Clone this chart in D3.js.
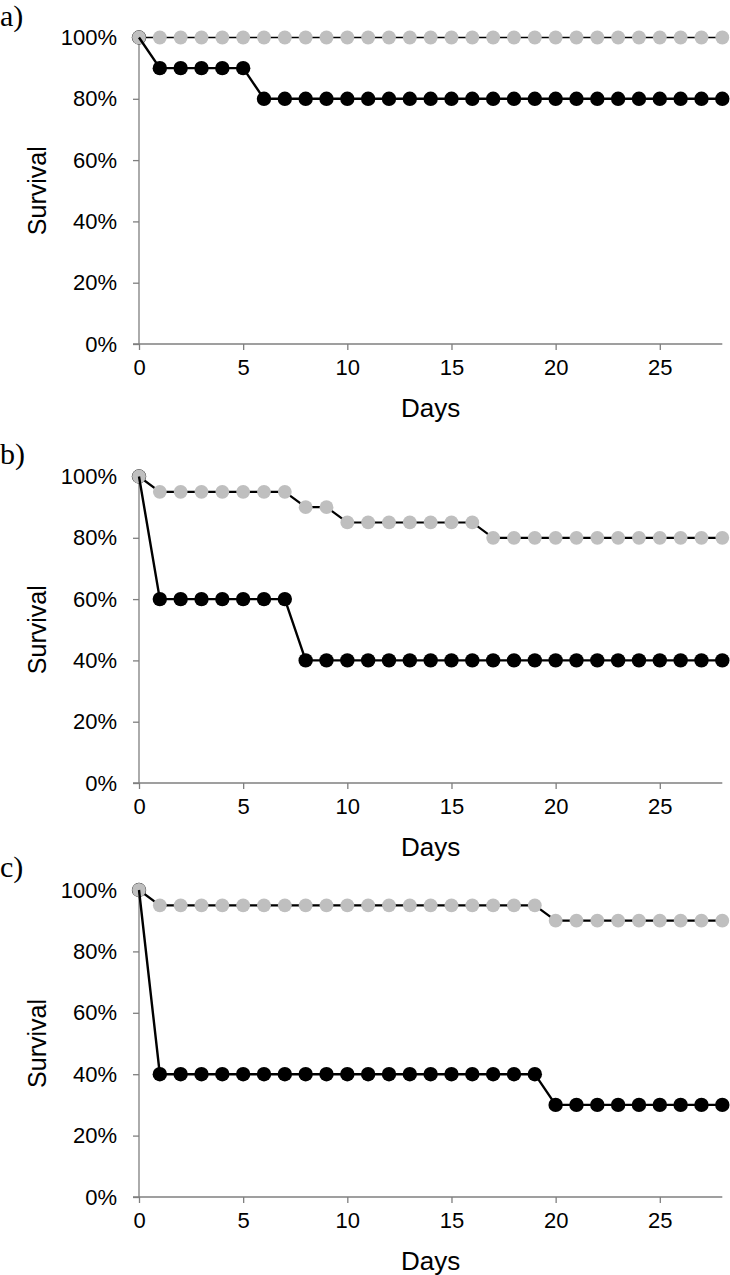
<!DOCTYPE html>
<html>
<head>
<meta charset="utf-8">
<script src="https://cdn.jsdelivr.net/npm/d3@7/dist/d3.min.js"></script>
<style>
  html, body { margin: 0; padding: 0; background: #fff; }
  svg { display: block; }
</style>
</head>
<body>
<svg id="chart" width="730" height="1275"></svg>
<script>
// ---- Data ----
const days = d3.range(0, 29); // 0..28
const xTicks = [0, 5, 10, 15, 20, 25];
const yTicks = [0, 0.2, 0.4, 0.6, 0.8, 1.0];
const panelLabels = ["a)", "b)", "c)"];

// Panel a
const aGray  = [1,1,1,1,1,1,1,1,1,1,1,1,1,1,1,1,1,1,1,1,1,1,1,1,1,1,1,1,1];
const aBlack = [1,0.9,0.9,0.9,0.9,0.9,0.8,0.8,0.8,0.8,0.8,0.8,0.8,0.8,0.8,0.8,0.8,0.8,0.8,0.8,0.8,0.8,0.8,0.8,0.8,0.8,0.8,0.8,0.8];
// Panel b
const bGray  = [1,0.95,0.95,0.95,0.95,0.95,0.95,0.95,0.9,0.9,0.85,0.85,0.85,0.85,0.85,0.85,0.85,0.8,0.8,0.8,0.8,0.8,0.8,0.8,0.8,0.8,0.8,0.8,0.8];
const bBlack = [1,0.6,0.6,0.6,0.6,0.6,0.6,0.6,0.4,0.4,0.4,0.4,0.4,0.4,0.4,0.4,0.4,0.4,0.4,0.4,0.4,0.4,0.4,0.4,0.4,0.4,0.4,0.4,0.4];
// Panel c
const cGray  = [1,0.95,0.95,0.95,0.95,0.95,0.95,0.95,0.95,0.95,0.95,0.95,0.95,0.95,0.95,0.95,0.95,0.95,0.95,0.95,0.9,0.9,0.9,0.9,0.9,0.9,0.9,0.9,0.9];
const cBlack = [1,0.4,0.4,0.4,0.4,0.4,0.4,0.4,0.4,0.4,0.4,0.4,0.4,0.4,0.4,0.4,0.4,0.4,0.4,0.4,0.3,0.3,0.3,0.3,0.3,0.3,0.3,0.3,0.3];

// ---- Layout ----
const panels = [
  { label: panelLabels[0], gray: aGray, black: aBlack, top: 37.5, bottom: 344, labelY: 15, grayLineW: 1.3 },
  { label: panelLabels[1], gray: bGray, black: bBlack, top: 476.5, bottom: 783, labelY: 453, grayLineW: 2.2 },
  { label: panelLabels[2], gray: cGray, black: cBlack, top: 890, bottom: 1197, labelY: 866, grayLineW: 2.2 }
];

const svg = d3.select("#chart");
const x = d3.scaleLinear().domain([0, 28]).range([139, 722.3]);
const GRAY = "#bfbfbf";
const AXIS = "#7f7f7f";
const RG = 6.9, RB = 7.2;
const SANS = "Liberation Sans, Arial, sans-serif";

panels.forEach(p => {
  const g = svg.append("g");
  const y = d3.scaleLinear().domain([0, 1]).range([p.bottom, p.top]);

  // Y axis
  const yAxis = d3.axisLeft(y).tickValues(yTicks).tickFormat(d3.format(".0%")).tickSize(6).tickPadding(16);
  const ya = g.append("g").attr("transform", `translate(${x(0)},0)`).call(yAxis);
  ya.select(".domain").attr("stroke", AXIS).attr("stroke-width", 1.3).attr("d", `M0,${p.bottom}V${p.top}`);
  ya.selectAll(".tick line").attr("stroke", AXIS).attr("stroke-width", 1.3);
  ya.selectAll(".tick text").attr("font-family", SANS).attr("font-size", 22).attr("fill", "#000");

  // X axis
  const xAxis = d3.axisBottom(x).tickValues(xTicks).tickSize(6).tickPadding(9);
  const xa = g.append("g").attr("transform", `translate(0,${p.bottom})`).call(xAxis);
  xa.select(".domain").attr("stroke", AXIS).attr("stroke-width", 1.3).attr("d", `M${x(0) - 6},0H${x(28)}`);
  xa.selectAll(".tick line").attr("stroke", AXIS).attr("stroke-width", 1.3);
  xa.selectAll(".tick text").attr("font-family", SANS).attr("font-size", 22).attr("fill", "#000");

  // Axis titles
  g.append("text")
    .attr("transform", `translate(37,${(p.top + p.bottom) / 2}) rotate(-90)`)
    .attr("text-anchor", "middle").attr("dominant-baseline", "central")
    .attr("font-family", SANS).attr("font-size", 25)
    .text("Survival");
  g.append("text")
    .attr("x", (x(0) + x(28)) / 2).attr("y", p.bottom + 64)
    .attr("text-anchor", "middle").attr("dominant-baseline", "central")
    .attr("font-family", SANS).attr("font-size", 26)
    .text("Days");

  // Panel label
  g.append("text")
    .attr("x", 0).attr("y", p.labelY)
    .attr("dominant-baseline", "central")
    .attr("font-family", "Liberation Serif, Times New Roman, serif").attr("font-size", 30)
    .text(p.label);

  const line = d3.line().x((d, i) => x(days[i])).y(d => y(d));

  // gray series line
  g.append("path").datum(p.gray).attr("d", line).attr("fill", "none")
    .attr("stroke", "#000").attr("stroke-width", p.grayLineW);
  // black dots
  g.selectAll(".bd").data(p.black).enter().append("circle")
    .attr("cx", (d, i) => x(days[i])).attr("cy", d => y(d)).attr("r", RB).attr("fill", "#000");
  // gray dots
  g.selectAll(".gd").data(p.gray).enter().append("circle")
    .attr("cx", (d, i) => x(days[i])).attr("cy", d => y(d)).attr("r", RG).attr("fill", GRAY);
  // black line
  g.append("path").datum(p.black).attr("d", line).attr("fill", "none")
    .attr("stroke", "#000").attr("stroke-width", 2.4);
});
</script>
</body>
</html>
